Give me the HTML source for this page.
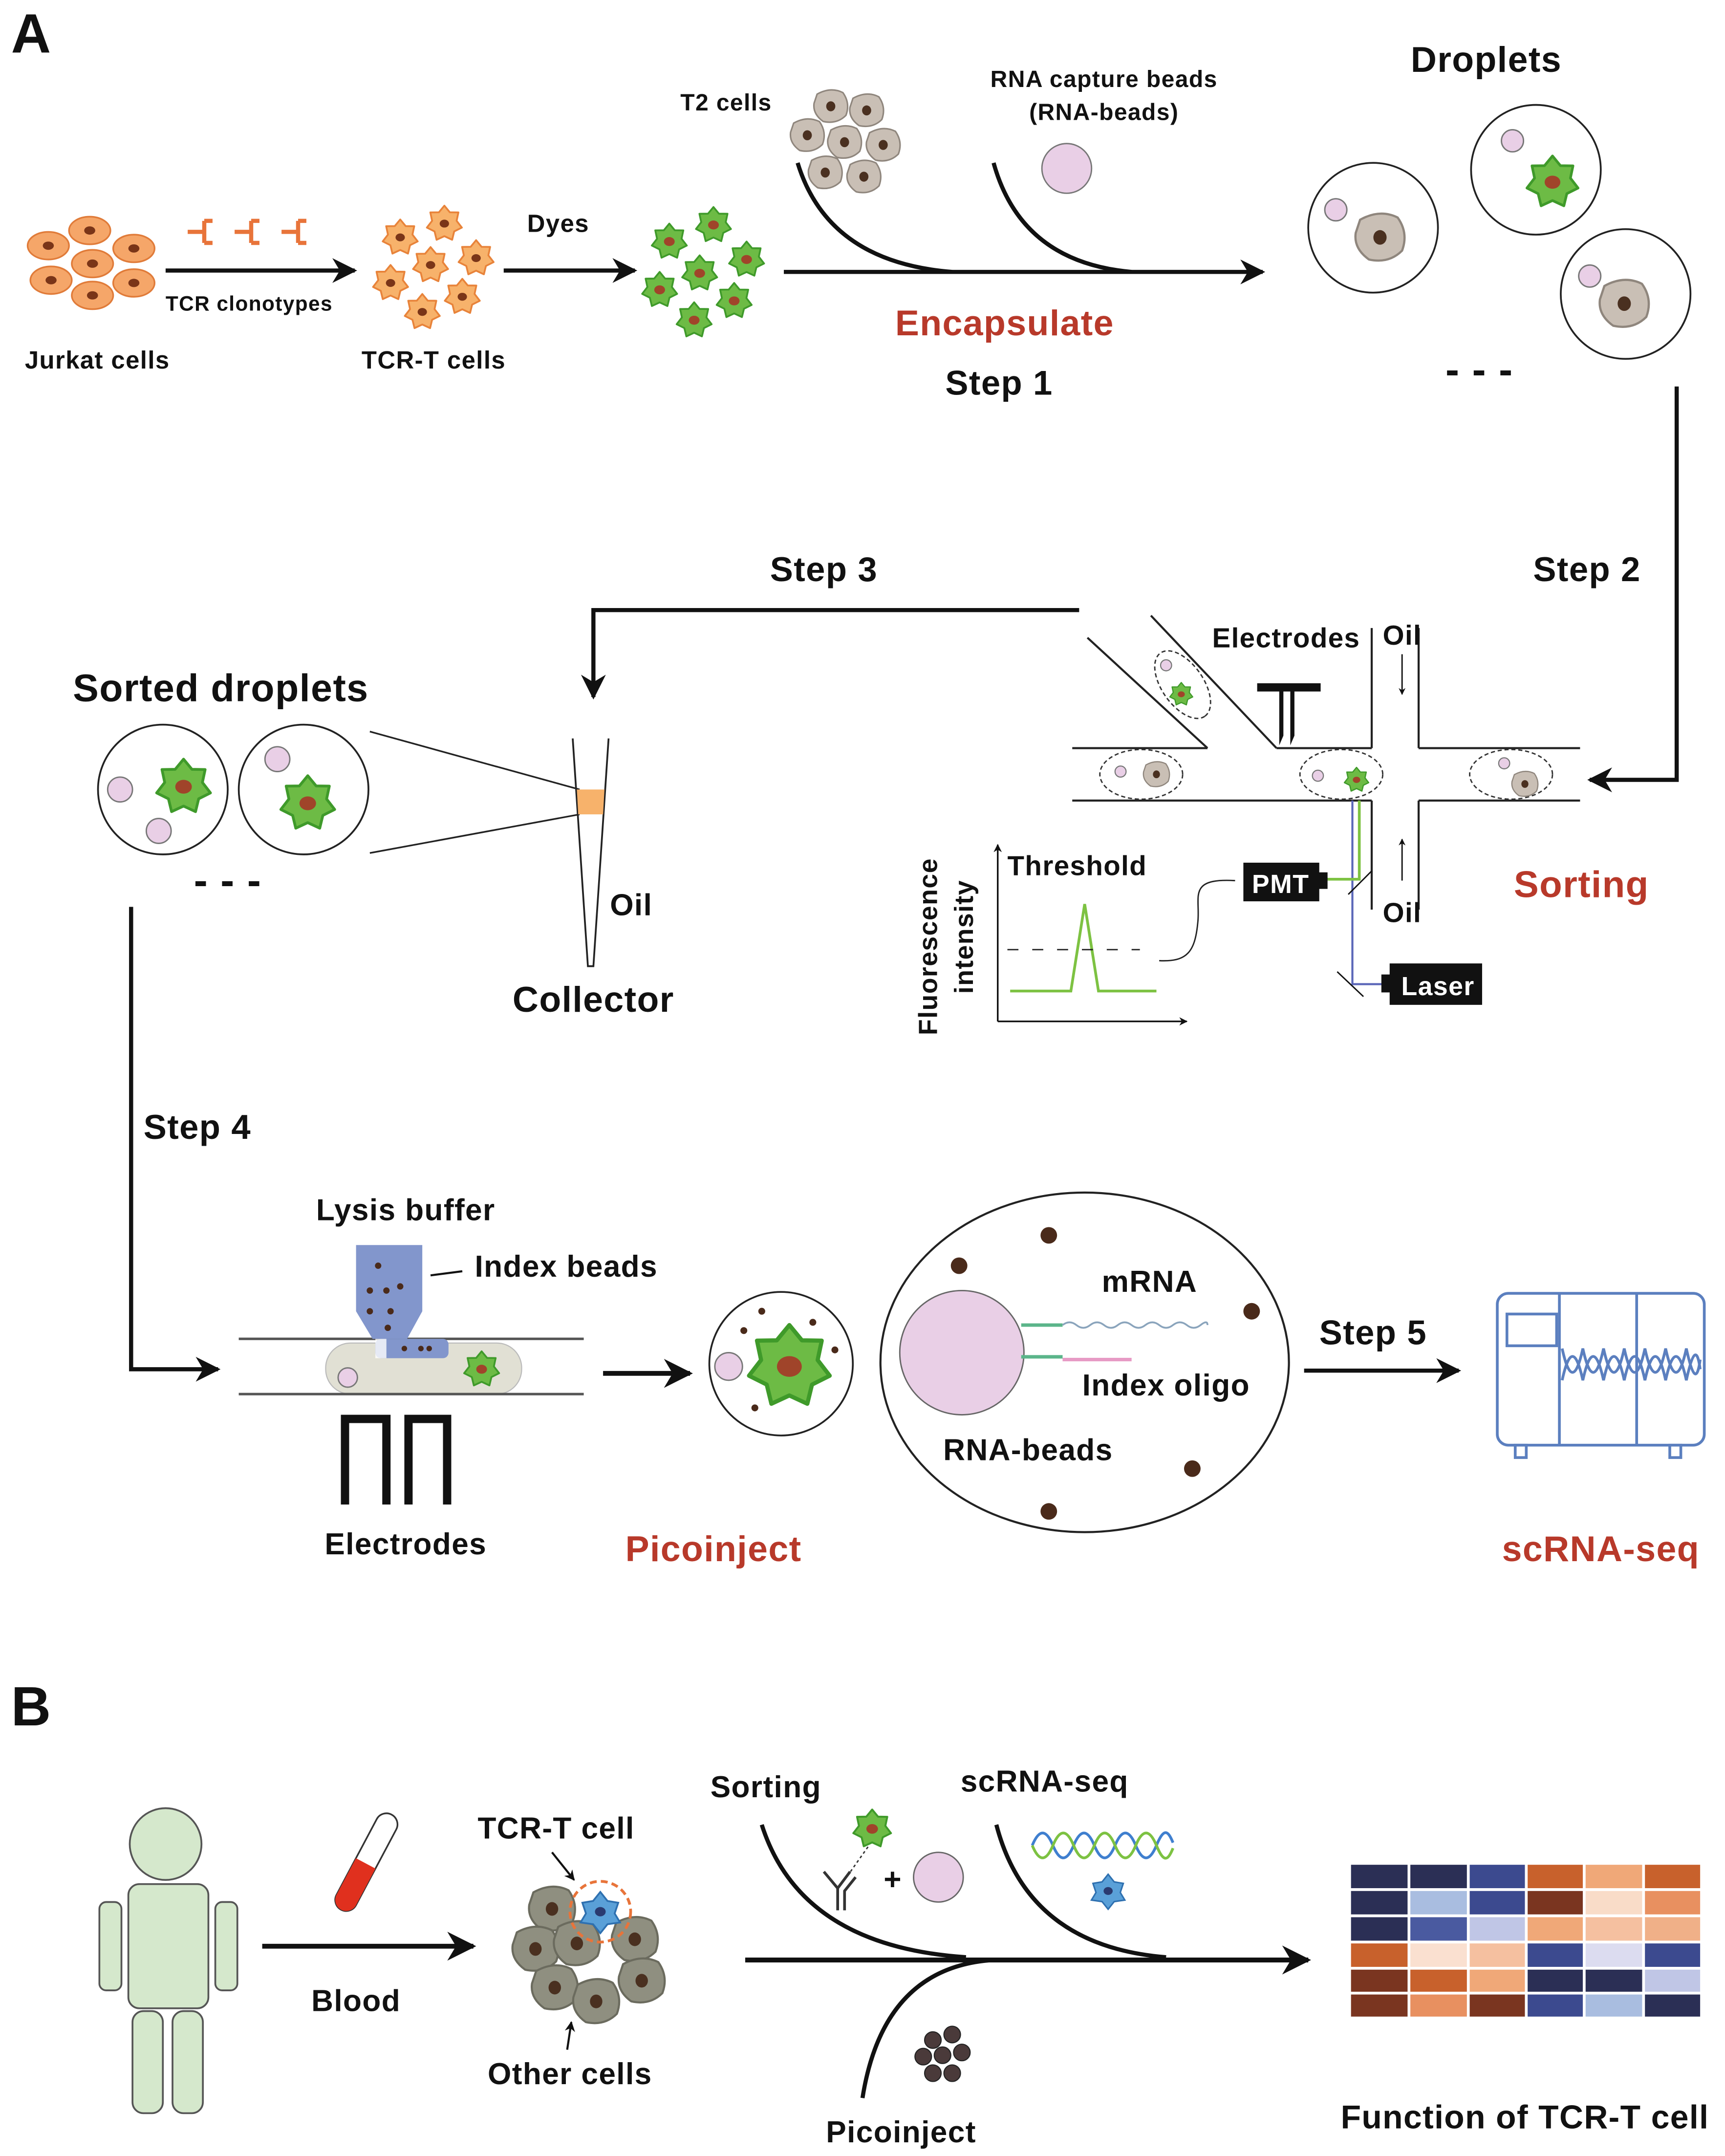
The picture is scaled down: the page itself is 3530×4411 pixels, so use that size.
<!DOCTYPE html>
<html><head><meta charset="utf-8"><style>
html,body{margin:0;padding:0;background:#fff;}
svg{display:block;}
text{font-family:"Liberation Sans",Arial,sans-serif;font-weight:bold;fill:#111;letter-spacing:0.5px;}
.red{fill:#b8392a;}
</style></head><body>
<svg width="3530" height="4411" viewBox="0 0 1250 1562" xmlns="http://www.w3.org/2000/svg">
<defs>
<marker id="ah" viewBox="0 0 10 10" refX="9" refY="5" markerWidth="6" markerHeight="6" orient="auto"><path d="M0,0 L10,5 L0,10 L3,5 z" fill="#111"/></marker>
<marker id="ahs" viewBox="0 0 10 10" refX="9" refY="5" markerWidth="5" markerHeight="5" orient="auto"><path d="M0,0 L10,5 L0,10 L3,5 z" fill="#111"/></marker>
<g id="oc"><ellipse rx="15" ry="10" fill="#f5a669" stroke="#e07b39" stroke-width="1.2"/><ellipse rx="4" ry="3" fill="#7a3518"/></g>
<g id="os"><polygon points="0,-10 3.04,-6.31 7.82,-6.24 6.83,-1.56 9.75,2.23 5.47,4.37 4.34,9.01 0,7 -4.34,9.01 -5.47,4.37 -9.75,2.23 -6.83,-1.56 -7.82,-6.24 -3.04,-6.31" fill="#f7b26b" stroke="#e8833a" stroke-width="1" stroke-linejoin="round"/><ellipse rx="2.6" ry="2.2" fill="#7a3518"/></g>
<g id="gs"><polygon points="0,-10 3.04,-6.31 7.82,-6.24 6.83,-1.56 9.75,2.23 5.47,4.37 4.34,9.01 0,7 -4.34,9.01 -5.47,4.37 -9.75,2.23 -6.83,-1.56 -7.82,-6.24 -3.04,-6.31" fill="#6dbb45" stroke="#3f9a2a" stroke-width="1" stroke-linejoin="round"/><ellipse rx="3" ry="2.5" fill="#a0442a"/></g>
<g id="gc"><path d="M-9,-8 Q0,-13 8,-9 Q13,-2 10,6 Q4,12 -5,10 Q-12,5 -11,-2 Z" fill="#c9bfb5" stroke="#8f867d" stroke-width="1"/><ellipse rx="3" ry="3.3" fill="#4a3020"/></g>
<g id="bc"><path d="M-9,-8 Q0,-13 8,-9 Q13,-2 10,6 Q4,12 -5,10 Q-12,5 -11,-2 Z" fill="#8f8f80" stroke="#6b6b5e" stroke-width="1"/><ellipse rx="3" ry="3.3" fill="#4a3020"/></g>
</defs>

<text x="8" y="38" font-size="40">A</text>

<use href="#oc" x="35" y="178"/><use href="#oc" x="65" y="167"/><use href="#oc" x="97" y="180"/>
<use href="#oc" x="37" y="203"/><use href="#oc" x="67" y="191"/><use href="#oc" x="97" y="205"/><use href="#oc" x="67" y="214"/>
<text x="18" y="267" font-size="18">Jurkat cells</text>

<g stroke="#e8743a" stroke-width="3" fill="none">
<path d="M136,168 h12 M148,160 v16 M148,160 h6 M148,176 h6"/>
<path d="M170,168 h12 M182,160 v16 M182,160 h6 M182,176 h6"/>
<path d="M204,168 h12 M216,160 v16 M216,160 h6 M216,176 h6"/>
</g>
<line x1="120" y1="196" x2="257" y2="196" stroke="#111" stroke-width="3" marker-end="url(#ah)"/>
<text x="120" y="225" font-size="15">TCR clonotypes</text>

<g transform="translate(290,172) scale(1.3)"><use href="#os"/></g>
<g transform="translate(322,162) scale(1.3)"><use href="#os"/></g>
<g transform="translate(345,187) scale(1.3)"><use href="#os"/></g>
<g transform="translate(312,192) scale(1.3)"><use href="#os"/></g>
<g transform="translate(283,205) scale(1.3)"><use href="#os"/></g>
<g transform="translate(335,215) scale(1.3)"><use href="#os"/></g>
<g transform="translate(306,226) scale(1.3)"><use href="#os"/></g>
<text x="262" y="267" font-size="18">TCR-T cells</text>
<text x="382" y="168" font-size="18">Dyes</text>
<line x1="365" y1="196" x2="460" y2="196" stroke="#111" stroke-width="3" marker-end="url(#ah)"/>

<g transform="translate(485,175) scale(1.3)"><use href="#gs"/></g>
<g transform="translate(517,163) scale(1.3)"><use href="#gs"/></g>
<g transform="translate(541,188) scale(1.3)"><use href="#gs"/></g>
<g transform="translate(507,198) scale(1.3)"><use href="#gs"/></g>
<g transform="translate(478,210) scale(1.3)"><use href="#gs"/></g>
<g transform="translate(532,218) scale(1.3)"><use href="#gs"/></g>
<g transform="translate(503,232) scale(1.3)"><use href="#gs"/></g>

<text x="493" y="80" font-size="17">T2 cells</text>
<g transform="translate(602,77) scale(1.1)"><use href="#gc"/></g>
<g transform="translate(628,80) scale(1.1)"><use href="#gc"/></g>
<g transform="translate(585,98) scale(1.1)"><use href="#gc"/></g>
<g transform="translate(612,103) scale(1.1)"><use href="#gc"/></g>
<g transform="translate(640,105) scale(1.1)"><use href="#gc"/></g>
<g transform="translate(598,125) scale(1.1)"><use href="#gc"/></g>
<g transform="translate(626,128) scale(1.1)"><use href="#gc"/></g>

<text x="800" y="63" font-size="17" text-anchor="middle">RNA capture beads</text>
<text x="800" y="87" font-size="17" text-anchor="middle">(RNA-beads)</text>
<circle cx="773" cy="122" r="18" fill="#e9cfe6" stroke="#777" stroke-width="1"/>

<g fill="none" stroke="#111" stroke-width="3">
<path d="M578,118 Q600,190 690,197"/>
<path d="M720,118 Q740,190 820,197"/>
</g>
<line x1="568" y1="197" x2="915" y2="197" stroke="#111" stroke-width="3" marker-end="url(#ah)"/>
<text x="728" y="243" font-size="26" text-anchor="middle" class="red">Encapsulate</text>
<text x="724" y="286" font-size="25" text-anchor="middle">Step 1</text>

<text x="1077" y="52" font-size="26" text-anchor="middle">Droplets</text>
<circle cx="995" cy="165" r="47" fill="#fff" stroke="#222" stroke-width="1.3"/>
<circle cx="968" cy="152" r="8" fill="#e9cfe6" stroke="#777"/>
<g transform="translate(1000,172) scale(1.6)"><use href="#gc"/></g>
<circle cx="1113" cy="123" r="47" fill="#fff" stroke="#222" stroke-width="1.3"/>
<circle cx="1096" cy="102" r="8" fill="#e9cfe6" stroke="#777"/>
<g transform="translate(1125,132) scale(1.9)"><use href="#gs"/></g>
<circle cx="1178" cy="213" r="47" fill="#fff" stroke="#222" stroke-width="1.3"/>
<circle cx="1152" cy="200" r="8" fill="#e9cfe6" stroke="#777"/>
<g transform="translate(1177,220) scale(1.6)"><use href="#gc"/></g>
<text x="1072" y="278" font-size="30" text-anchor="middle">- - -</text>

<path d="M1215,280 V565 H1152" fill="none" stroke="#111" stroke-width="3" marker-end="url(#ah)"/>
<text x="1150" y="421" font-size="25" text-anchor="middle">Step 2</text>
<text x="597" y="421" font-size="25" text-anchor="middle">Step 3</text>
<path d="M782,442 H430 V505" fill="none" stroke="#111" stroke-width="3" marker-end="url(#ah)"/>

<g stroke="#222" stroke-width="1.5" fill="none">
<line x1="788" y1="462" x2="875" y2="542"/>
<line x1="834" y1="446" x2="925" y2="542"/>
<line x1="777" y1="542" x2="875" y2="542"/>
<line x1="925" y1="542" x2="994" y2="542"/>
<line x1="994" y1="455" x2="994" y2="542"/>
<line x1="1028" y1="455" x2="1028" y2="542"/>
<line x1="1028" y1="542" x2="1145" y2="542"/>
<line x1="777" y1="580" x2="994" y2="580"/>
<line x1="1028" y1="580" x2="1145" y2="580"/>
<line x1="994" y1="580" x2="994" y2="659"/>
<line x1="1028" y1="580" x2="1028" y2="659"/>
</g>
<g stroke="#333" stroke-width="1" stroke-dasharray="3,2" fill="none">
<ellipse cx="827" cy="561" rx="30" ry="18"/>
<ellipse cx="972" cy="561" rx="30" ry="18"/>
<ellipse cx="1095" cy="561" rx="30" ry="18"/>
<ellipse cx="857" cy="496" rx="28" ry="15" transform="rotate(55 857 496)"/>
</g>
<circle cx="812" cy="559" r="4" fill="#e9cfe6" stroke="#777" stroke-width="0.8"/>
<g transform="translate(838,561) scale(0.85)"><use href="#gc"/></g>
<circle cx="955" cy="562" r="4" fill="#e9cfe6" stroke="#777" stroke-width="0.8"/>
<g transform="translate(983,565) scale(0.9)"><use href="#gs"/></g>
<circle cx="1090" cy="553" r="4" fill="#e9cfe6" stroke="#777" stroke-width="0.8"/>
<g transform="translate(1105,568) scale(0.85)"><use href="#gc"/></g>
<circle cx="845" cy="482" r="4" fill="#e9cfe6" stroke="#777" stroke-width="0.8"/>
<g transform="translate(856,503) scale(0.85)"><use href="#gs"/></g>
<path d="M911,495 H957 V501 H938 V533 L935,540 V501 H930 V533 L927,540 V501 H911 Z" fill="#111"/>
<text x="932" y="469" font-size="20" text-anchor="middle">Electrodes</text>
<text x="1002" y="467" font-size="20">Oil</text>
<text x="1002" y="668" font-size="20">Oil</text>
<line x1="1016" y1="474" x2="1016" y2="503" stroke="#111" stroke-width="1" marker-end="url(#ahs)"/>
<line x1="1016" y1="638" x2="1016" y2="608" stroke="#111" stroke-width="1" marker-end="url(#ahs)"/>
<polyline points="980,580 980,713 1003,713" fill="none" stroke="#5a66b8" stroke-width="1.5"/>
<polyline points="985,580 985,637 961,637" fill="none" stroke="#7dc242" stroke-width="2"/>
<line x1="977" y1="648" x2="994" y2="631" stroke="#111" stroke-width="1"/>
<line x1="969" y1="704" x2="988" y2="722" stroke="#111" stroke-width="1"/>
<rect x="901" y="625" width="55" height="28" fill="#111"/><rect x="955" y="632" width="7" height="12" fill="#111"/>
<text x="928" y="647" font-size="19" text-anchor="middle" style="fill:#fff">PMT</text>
<rect x="1007" y="698" width="67" height="30" fill="#111"/><rect x="1001" y="706" width="7" height="13" fill="#111"/>
<text x="1042" y="721" font-size="19" text-anchor="middle" style="fill:#fff">Laser</text>
<path d="M895,638 C860,636 870,650 868,668 C866,690 860,697 840,696" fill="none" stroke="#222" stroke-width="1"/>
<line x1="723" y1="740" x2="723" y2="612" stroke="#111" stroke-width="1.2" marker-end="url(#ahs)"/>
<line x1="723" y1="740" x2="860" y2="740" stroke="#111" stroke-width="1.2" marker-end="url(#ahs)"/>
<text x="730" y="634" font-size="20">Threshold</text>
<polyline points="732,718 776,718 786,655 796,718 838,718" fill="none" stroke="#7dc242" stroke-width="2"/>
<line x1="730" y1="688" x2="826" y2="688" stroke="#222" stroke-width="1" stroke-dasharray="8,10"/>
<text transform="translate(679,750) rotate(-90)" font-size="19">Fluorescence</text>
<text transform="translate(705,720) rotate(-90)" font-size="19">intensity</text>
<text x="1146" y="650" font-size="27" text-anchor="middle" class="red">Sorting</text>

<text x="160" y="508" font-size="28" text-anchor="middle">Sorted droplets</text>
<circle cx="118" cy="572" r="47" fill="#fff" stroke="#222" stroke-width="1.3"/>
<circle cx="87" cy="572" r="9" fill="#e9cfe6" stroke="#777"/>
<circle cx="115" cy="602" r="9" fill="#e9cfe6" stroke="#777"/>
<g transform="translate(133,570) scale(2)"><use href="#gs"/></g>
<circle cx="220" cy="572" r="47" fill="#fff" stroke="#222" stroke-width="1.3"/>
<circle cx="201" cy="550" r="9" fill="#e9cfe6" stroke="#777"/>
<g transform="translate(223,582) scale(2)"><use href="#gs"/></g>
<text x="165" y="648" font-size="30" text-anchor="middle">- - -</text>
<line x1="268" y1="530" x2="420" y2="572" stroke="#222" stroke-width="1.2"/>
<line x1="268" y1="618" x2="420" y2="590" stroke="#222" stroke-width="1.2"/>
<path d="M415,535 L426,700 L430,700 L441,535" fill="none" stroke="#222" stroke-width="1.3"/>
<path d="M418,572 L438,572 L437,590 L419,590 Z" fill="#f7b26b"/>
<text x="442" y="663" font-size="22">Oil</text>
<text x="430" y="733" font-size="26" text-anchor="middle">Collector</text>

<path d="M95,657 V992 H158" fill="none" stroke="#111" stroke-width="3" marker-end="url(#ah)"/>
<text x="104" y="825" font-size="25">Step 4</text>
<text x="294" y="884" font-size="22" text-anchor="middle">Lysis buffer</text>
<line x1="312" y1="924" x2="335" y2="921" stroke="#111" stroke-width="1.5"/>
<text x="344" y="925" font-size="22">Index beads</text>
<rect x="236" y="973" width="142" height="37" rx="18" fill="#e1e0d4" stroke="#bbb" stroke-width="0.8"/>
<line x1="173" y1="970" x2="423" y2="970" stroke="#555" stroke-width="1.8"/>
<line x1="173" y1="1010" x2="423" y2="1010" stroke="#555" stroke-width="1.8"/>
<path d="M258,902 H306 V950 L295,970 H270 L258,950 Z" fill="#8296cc"/>
<rect x="272" y="970" width="53" height="14" rx="4" fill="#8296cc"/>
<rect x="272" y="970" width="8" height="14" fill="#fff" opacity="0.8"/>
<g fill="#4a2a1a">
<circle cx="274" cy="917" r="2.3"/><circle cx="268" cy="935" r="2.3"/><circle cx="280" cy="935" r="2.3"/><circle cx="290" cy="932" r="2.3"/>
<circle cx="268" cy="950" r="2.3"/><circle cx="283" cy="950" r="2.3"/><circle cx="281" cy="962" r="2.3"/>
<circle cx="293" cy="977" r="2"/><circle cx="305" cy="977" r="2"/><circle cx="311" cy="977" r="2"/>
</g>
<circle cx="252" cy="998" r="7" fill="#e9cfe6" stroke="#777"/>
<g transform="translate(349,992) scale(1.3)"><use href="#gs"/></g>
<path d="M250,1090 V1028 H280 V1090 M296,1090 V1028 H324 V1090" fill="none" stroke="#111" stroke-width="6"/>
<text x="294" y="1126" font-size="22" text-anchor="middle">Electrodes</text>
<line x1="437" y1="995" x2="500" y2="995" stroke="#111" stroke-width="3.5" marker-end="url(#ah)"/>
<circle cx="566" cy="988" r="52" fill="#fff" stroke="#222" stroke-width="1.3"/>
<circle cx="528" cy="990" r="10" fill="#e9cfe6" stroke="#777"/>
<g transform="translate(572,990) scale(3)"><use href="#gs"/></g>
<g fill="#4a2a1a"><circle cx="552" cy="950" r="2.5"/><circle cx="539" cy="964" r="2.5"/><circle cx="589" cy="958" r="2.5"/><circle cx="605" cy="978" r="2.5"/><circle cx="547" cy="1020" r="2.5"/></g>
<text x="517" y="1131" font-size="26" text-anchor="middle" class="red">Picoinject</text>

<ellipse cx="786" cy="987" rx="148" ry="123" fill="#fff" stroke="#222" stroke-width="1.5"/>
<circle cx="697" cy="980" r="45" fill="#e9cfe6" stroke="#666" stroke-width="1"/>
<g fill="#4a2a1a"><circle cx="760" cy="895" r="6"/><circle cx="695" cy="917" r="6"/><circle cx="907" cy="950" r="6"/><circle cx="864" cy="1064" r="6"/><circle cx="760" cy="1095" r="6"/></g>
<line x1="740" y1="960" x2="770" y2="960" stroke="#5bb58a" stroke-width="2.5"/>
<line x1="740" y1="983" x2="770" y2="983" stroke="#5bb58a" stroke-width="2.5"/>
<path d="M770,960 q5,-4 10,0 t10,0 t10,0 t10,0 t10,0 t10,0 t10,0 t10,0 t10,0 t10,0 t5,0" fill="none" stroke="#8aa4bc" stroke-width="1.3"/>
<line x1="770" y1="985" x2="820" y2="985" stroke="#e79ac5" stroke-width="2.5"/>
<text x="833" y="936" font-size="22" text-anchor="middle">mRNA</text>
<text x="845" y="1011" font-size="22" text-anchor="middle">Index oligo</text>
<text x="745" y="1058" font-size="22" text-anchor="middle">RNA-beads</text>

<text x="995" y="974" font-size="25" text-anchor="middle">Step 5</text>
<line x1="945" y1="993" x2="1057" y2="993" stroke="#111" stroke-width="3" marker-end="url(#ah)"/>
<g fill="none" stroke="#5b7fbf" stroke-width="2">
<rect x="1085" y="937" width="150" height="110" rx="8"/>
<line x1="1130" y1="937" x2="1130" y2="1047"/>
<line x1="1186" y1="937" x2="1186" y2="1047"/>
<rect x="1092" y="952" width="36" height="23"/>
<path d="M1132,977 C1137,1000 1142,1000 1147,977 C1152,1000 1157,1000 1162,977 C1167,1000 1172,1000 1177,977 C1182,1000 1187,1000 1192,977 C1197,1000 1202,1000 1207,977 C1212,1000 1217,1000 1222,977 C1227,1000 1230,1000 1232,985"/>
<path d="M1132,1000 C1137,977 1142,977 1147,1000 C1152,977 1157,977 1162,1000 C1167,977 1172,977 1177,1000 C1182,977 1187,977 1192,1000 C1197,977 1202,977 1207,1000 C1212,977 1217,977 1222,1000 C1227,977 1230,977 1232,992"/>
<rect x="1098" y="1047" width="8" height="9"/>
<rect x="1210" y="1047" width="8" height="9"/>
</g>
<text x="1160" y="1131" font-size="26" text-anchor="middle" class="red">scRNA-seq</text>

<text x="8" y="1250" font-size="40">B</text>
<g fill="#d5e8cc" stroke="#555" stroke-width="1.3">
<circle cx="120" cy="1336" r="26"/>
<rect x="93" y="1365" width="58" height="90" rx="8"/>
<rect x="72" y="1378" width="16" height="64" rx="5"/>
<rect x="156" y="1378" width="16" height="64" rx="5"/>
<rect x="96" y="1457" width="22" height="74" rx="8"/>
<rect x="125" y="1457" width="22" height="74" rx="8"/>
</g>
<g transform="translate(265,1350) rotate(28)">
<rect x="-8" y="-40" width="16" height="78" rx="8" fill="#fff" stroke="#333" stroke-width="1.2"/>
<path d="M-8,0 H8 V30 A8,8 0 0 1 -8,30 Z" fill="#e0301e"/>
</g>
<line x1="190" y1="1410" x2="343" y2="1410" stroke="#111" stroke-width="3.5" marker-end="url(#ah)"/>
<text x="258" y="1457" font-size="22" text-anchor="middle">Blood</text>
<text x="403" y="1332" font-size="22" text-anchor="middle">TCR-T cell</text>
<line x1="400" y1="1342" x2="416" y2="1362" stroke="#111" stroke-width="1.5" marker-end="url(#ahs)"/>
<g transform="translate(400,1383) scale(1.5)"><use href="#bc"/></g>
<g transform="translate(388,1412) scale(1.5)"><use href="#bc"/></g>
<g transform="translate(418,1408) scale(1.5)"><use href="#bc"/></g>
<g transform="translate(460,1405) scale(1.5)"><use href="#bc"/></g>
<g transform="translate(402,1440) scale(1.5)"><use href="#bc"/></g>
<g transform="translate(432,1450) scale(1.5)"><use href="#bc"/></g>
<g transform="translate(465,1435) scale(1.5)"><use href="#bc"/></g>
<circle cx="435" cy="1385" r="22" fill="none" stroke="#e8743a" stroke-width="2" stroke-dasharray="5,3"/>
<g transform="translate(435,1385) scale(1.3)"><path d="M0,-11 L4,-6 L10,-5 L8,1 L11,6 L4,7 L0,12 L-4,7 L-11,6 L-8,1 L-10,-5 L-4,-6 Z" fill="#5aa0d8" stroke="#2e70b0" stroke-width="1"/><ellipse rx="3" ry="2.6" fill="#2a3a70"/></g>
<line x1="411" y1="1485" x2="414" y2="1465" stroke="#111" stroke-width="1.5" marker-end="url(#ahs)"/>
<text x="413" y="1510" font-size="22" text-anchor="middle">Other cells</text>

<text x="555" y="1302" font-size="22" text-anchor="middle">Sorting</text>
<text x="757" y="1298" font-size="22" text-anchor="middle">scRNA-seq</text>
<g fill="none" stroke="#111" stroke-width="3">
<path d="M552,1322 Q580,1410 700,1418"/>
<path d="M722,1322 Q745,1410 845,1418"/>
<path d="M625,1520 Q640,1425 720,1420"/>
</g>
<line x1="540" y1="1420" x2="948" y2="1420" stroke="#111" stroke-width="3.5" marker-end="url(#ah)"/>
<g transform="translate(632,1325) scale(1.4)"><use href="#gs"/></g>
<line x1="629" y1="1338" x2="612" y2="1362" stroke="#333" stroke-width="1" stroke-dasharray="2,2"/>
<path d="M607,1384 V1368 L597,1356 M607,1368 L616,1356 M612,1384 V1370 L620,1360" fill="none" stroke="#333" stroke-width="2"/>
<text x="647" y="1369" font-size="22" text-anchor="middle">+</text>
<circle cx="680" cy="1360" r="18" fill="#e9cfe6" stroke="#666"/>
<path d="M748,1337 C753,1325 758,1325 763,1337 C768,1349 773,1349 778,1337 C783,1325 788,1325 793,1337 C798,1349 803,1349 808,1337 C813,1325 818,1325 823,1337 C828,1349 833,1349 838,1337 C843,1325 846,1325 850,1335" fill="none" stroke="#3f7fcf" stroke-width="2"/>
<path d="M748,1337 C753,1349 758,1349 763,1337 C768,1325 773,1325 778,1337 C783,1349 788,1349 793,1337 C798,1325 803,1325 808,1337 C813,1349 818,1349 823,1337 C828,1325 833,1325 838,1337 C843,1349 846,1349 850,1339" fill="none" stroke="#7dc242" stroke-width="2"/>
<g transform="translate(803,1370) scale(1.1)"><path d="M0,-11 L4,-6 L10,-5 L8,1 L11,6 L4,7 L0,12 L-4,7 L-11,6 L-8,1 L-10,-5 L-4,-6 Z" fill="#5aa0d8" stroke="#2e70b0" stroke-width="1"/><ellipse rx="3" ry="2.6" fill="#2a3a70"/></g>
<g fill="#4a3a3a" stroke="#222" stroke-width="0.8">
<circle cx="676" cy="1478" r="6"/><circle cx="690" cy="1474" r="6"/><circle cx="669" cy="1490" r="6"/><circle cx="683" cy="1489" r="6"/><circle cx="697" cy="1487" r="6"/><circle cx="676" cy="1502" r="6"/><circle cx="690" cy="1502" r="6"/>
</g>
<text x="653" y="1552" font-size="22" text-anchor="middle">Picoinject</text>

<g stroke="#fff" stroke-width="2">
<rect x="978" y="1350" width="43" height="19" fill="#2b2f55"/><rect x="1021" y="1350" width="43" height="19" fill="#2b2f55"/><rect x="1064" y="1350" width="42" height="19" fill="#3c4a8f"/><rect x="1106" y="1350" width="42" height="19" fill="#c8612c"/><rect x="1148" y="1350" width="43" height="19" fill="#f0a878"/><rect x="1191" y="1350" width="42" height="19" fill="#c8612c"/>
<rect x="978" y="1369" width="43" height="19" fill="#2b2f55"/><rect x="1021" y="1369" width="43" height="19" fill="#a9bde0"/><rect x="1064" y="1369" width="42" height="19" fill="#3c4a8f"/><rect x="1106" y="1369" width="42" height="19" fill="#7a3520"/><rect x="1148" y="1369" width="43" height="19" fill="#f9dcc8"/><rect x="1191" y="1369" width="42" height="19" fill="#e89060"/>
<rect x="978" y="1388" width="43" height="19" fill="#2b2f55"/><rect x="1021" y="1388" width="43" height="19" fill="#4a5aa0"/><rect x="1064" y="1388" width="42" height="19" fill="#c0c6e6"/><rect x="1106" y="1388" width="42" height="19" fill="#f0a878"/><rect x="1148" y="1388" width="43" height="19" fill="#f5c0a0"/><rect x="1191" y="1388" width="42" height="19" fill="#f0b088"/>
<rect x="978" y="1407" width="43" height="19" fill="#c8612c"/><rect x="1021" y="1407" width="43" height="19" fill="#fae0d0"/><rect x="1064" y="1407" width="42" height="19" fill="#f5c0a0"/><rect x="1106" y="1407" width="42" height="19" fill="#3c4a8f"/><rect x="1148" y="1407" width="43" height="19" fill="#dcdcf0"/><rect x="1191" y="1407" width="42" height="19" fill="#3c4a8f"/>
<rect x="978" y="1426" width="43" height="18" fill="#7a3520"/><rect x="1021" y="1426" width="43" height="18" fill="#c8612c"/><rect x="1064" y="1426" width="42" height="18" fill="#f0a878"/><rect x="1106" y="1426" width="42" height="18" fill="#2b2f55"/><rect x="1148" y="1426" width="43" height="18" fill="#2b2f55"/><rect x="1191" y="1426" width="42" height="18" fill="#c0c6e6"/>
<rect x="978" y="1444" width="43" height="18" fill="#7a3520"/><rect x="1021" y="1444" width="43" height="18" fill="#e89060"/><rect x="1064" y="1444" width="42" height="18" fill="#7a3520"/><rect x="1106" y="1444" width="42" height="18" fill="#3c4a8f"/><rect x="1148" y="1444" width="43" height="18" fill="#a9bde0"/><rect x="1191" y="1444" width="42" height="18" fill="#2b2f55"/>
</g>
<text x="1105" y="1542" font-size="24" text-anchor="middle">Function of TCR-T cell</text>
</svg>
</body></html>
